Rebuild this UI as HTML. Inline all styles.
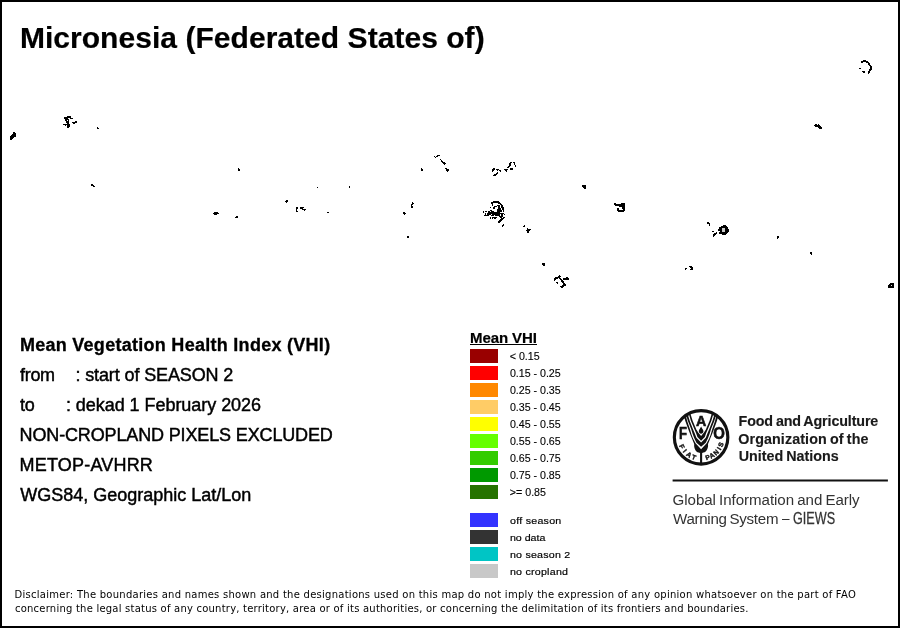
<!DOCTYPE html>
<html lang="en"><head><meta charset="utf-8"><title>Micronesia (Federated States of) - Mean Vegetation Health Index</title>
<style>
html,body{margin:0;padding:0;background:#fff;}
body{width:900px;height:628px;position:relative;overflow:hidden;font-family:"Liberation Sans",sans-serif;color:#000;}
#frame{position:absolute;left:0;top:0;width:896px;height:624px;border:2px solid #000;}
.t{position:absolute;white-space:nowrap;line-height:1;margin:0;transform-origin:0 0;}
.c{display:inline-block;transform-origin:50% 84.65%;}
.sw{position:absolute;left:470px;width:28px;height:14px;}
#ul{position:absolute;left:470px;top:344px;width:67px;height:1px;background:#000;}
svg{position:absolute;left:0;top:0;}
</style></head><body>
<div id="frame"></div>
<svg id="map" width="900" height="628" viewBox="0 0 900 628" shape-rendering="crispEdges">
<path fill="#000" d="M863 60h3v1h-3zM861 61h7v1h-7zM861 62h2v1h-2zM866 62h3v1h-3zM868 63h2v1h-2zM868 64h2v1h-2zM869 65h2v1h-2zM870 66h2v1h-2zM870 67h2v1h-2zM859 68h2v1h-2zM870 68h2v1h-2zM869 69h3v1h-3zM869 70h2v1h-2zM862 71h3v1h-3zM868 71h2v1h-2zM863 72h2v1h-2zM868 72h2v1h-2zM868 73h1v1h-1zM67 116h4v1h-4zM64 117h7v1h-7zM64 118h4v1h-4zM70 118h3v1h-3zM65 119h4v1h-4zM65 120h2v1h-2zM68 120h1v1h-1zM66 121h3v1h-3zM75 121h2v1h-2zM66 122h3v1h-3zM72 122h5v1h-5zM67 123h2v1h-2zM73 123h2v1h-2zM63 124h7v1h-7zM815 124h2v1h-2zM818 124h1v1h-1zM65 125h1v1h-1zM67 125h3v1h-3zM814 125h6v1h-6zM67 126h3v1h-3zM815 126h6v1h-6zM67 127h2v1h-2zM97 127h1v1h-1zM818 127h4v1h-4zM97 128h2v1h-2zM819 128h3v1h-3zM13 132h2v1h-2zM13 133h3v1h-3zM12 134h4v1h-4zM11 135h5v1h-5zM10 136h6v1h-6zM10 137h4v1h-4zM10 138h3v1h-3zM10 139h2v1h-2zM437 155h3v1h-3zM434 156h1v1h-1zM436 156h2v1h-2zM435 157h1v1h-1zM440 159h1v1h-1zM441 160h1v1h-1zM441 161h2v1h-2zM442 162h3v1h-3zM510 162h2v1h-2zM513 162h2v1h-2zM443 163h3v1h-3zM509 163h2v1h-2zM514 163h1v1h-1zM444 164h1v1h-1zM509 164h2v1h-2zM514 164h1v1h-1zM509 165h2v1h-2zM515 165h1v1h-1zM508 166h2v1h-2zM515 166h1v1h-1zM507 167h2v1h-2zM238 168h1v1h-1zM421 168h1v1h-1zM445 168h2v1h-2zM493 168h2v1h-2zM510 168h3v1h-3zM238 169h2v1h-2zM421 169h2v1h-2zM446 169h3v1h-3zM492 169h3v1h-3zM496 169h3v1h-3zM504 169h4v1h-4zM510 169h3v1h-3zM238 170h2v1h-2zM421 170h2v1h-2zM446 170h3v1h-3zM492 170h2v1h-2zM497 170h1v1h-1zM499 170h2v1h-2zM505 170h2v1h-2zM447 171h1v1h-1zM492 171h1v1h-1zM500 171h1v1h-1zM506 171h1v1h-1zM497 172h1v1h-1zM496 173h2v1h-2zM494 174h3v1h-3zM493 175h3v1h-3zM91 184h2v1h-2zM91 185h3v1h-3zM582 185h4v1h-4zM93 186h2v1h-2zM349 186h1v1h-1zM582 186h4v1h-4zM317 187h1v1h-1zM349 187h1v1h-1zM583 187h3v1h-3zM584 188h2v1h-2zM286 200h2v1h-2zM285 201h3v1h-3zM493 201h6v1h-6zM286 202h1v1h-1zM412 202h1v1h-1zM491 202h9v1h-9zM412 203h2v1h-2zM491 203h2v1h-2zM498 203h3v1h-3zM614 203h2v1h-2zM621 203h4v1h-4zM411 204h2v1h-2zM492 204h1v1h-1zM500 204h2v1h-2zM614 204h11v1h-11zM411 205h1v1h-1zM492 205h1v1h-1zM497 205h3v1h-3zM501 205h2v1h-2zM615 205h10v1h-10zM411 206h2v1h-2zM494 206h3v1h-3zM498 206h2v1h-2zM501 206h2v1h-2zM619 206h6v1h-6zM296 207h1v1h-1zM297 207h1v1h-1zM300 207h4v1h-4zM411 207h2v1h-2zM490 207h1v1h-1zM493 207h2v1h-2zM498 207h2v1h-2zM501 207h3v1h-3zM622 207h3v1h-3zM296 208h1v1h-1zM297 208h1v1h-1zM300 208h3v1h-3zM493 208h2v1h-2zM498 208h3v1h-3zM502 208h2v1h-2zM617 208h2v1h-2zM622 208h3v1h-3zM296 209h1v1h-1zM302 209h4v1h-4zM497 209h4v1h-4zM502 209h2v1h-2zM617 209h2v1h-2zM623 209h2v1h-2zM296 210h1v1h-1zM304 210h1v1h-1zM490 210h2v1h-2zM497 210h5v1h-5zM503 210h1v1h-1zM617 210h8v1h-8zM296 211h1v1h-1zM297 211h1v1h-1zM483 211h1v1h-1zM485 211h2v1h-2zM488 211h2v1h-2zM491 211h3v1h-3zM497 211h5v1h-5zM503 211h1v1h-1zM618 211h6v1h-6zM214 212h4v1h-4zM327 212h2v1h-2zM403 212h2v1h-2zM483 212h1v1h-1zM488 212h12v1h-12zM213 213h6v1h-6zM403 213h3v1h-3zM485 213h1v1h-1zM487 213h17v1h-17zM214 214h3v1h-3zM404 214h1v1h-1zM485 214h1v1h-1zM487 214h4v1h-4zM492 214h8v1h-8zM501 214h2v1h-2zM504 214h1v1h-1zM484 215h5v1h-5zM491 215h3v1h-3zM495 215h5v1h-5zM501 215h2v1h-2zM236 216h2v1h-2zM499 216h4v1h-4zM235 217h3v1h-3zM490 217h1v1h-1zM492 217h5v1h-5zM500 217h2v1h-2zM503 217h2v1h-2zM490 218h1v1h-1zM492 218h1v1h-1zM494 218h2v1h-2zM501 218h3v1h-3zM500 219h3v1h-3zM499 220h3v1h-3zM498 221h3v1h-3zM498 222h2v1h-2zM707 222h2v1h-2zM707 223h3v1h-3zM503 224h1v1h-1zM709 224h1v1h-1zM502 225h2v1h-2zM524 225h1v1h-1zM709 225h1v1h-1zM723 225h3v1h-3zM502 226h1v1h-1zM523 226h2v1h-2zM721 226h6v1h-6zM719 227h9v1h-9zM527 228h1v1h-1zM719 228h9v1h-9zM527 229h4v1h-4zM718 229h11v1h-11zM526 230h4v1h-4zM718 230h11v1h-11zM527 231h2v1h-2zM712 231h2v1h-2zM720 231h9v1h-9zM527 232h2v1h-2zM716 232h1v1h-1zM719 232h9v1h-9zM714 233h3v1h-3zM719 233h8v1h-8zM713 234h3v1h-3zM722 234h4v1h-4zM713 235h2v1h-2zM407 236h2v1h-2zM713 236h1v1h-1zM777 236h2v1h-2zM407 237h2v1h-2zM777 237h2v1h-2zM777 238h1v1h-1zM810 252h2v1h-2zM810 253h2v1h-2zM811 254h1v1h-1zM542 263h3v1h-3zM542 264h3v1h-3zM543 265h2v1h-2zM689 266h3v1h-3zM690 267h3v1h-3zM685 268h2v1h-2zM691 268h2v1h-2zM685 269h1v1h-1zM690 269h3v1h-3zM559 275h1v1h-1zM558 276h3v1h-3zM555 277h5v1h-5zM566 277h2v1h-2zM554 278h4v1h-4zM559 278h2v1h-2zM563 278h6v1h-6zM554 279h2v1h-2zM560 279h2v1h-2zM563 279h6v1h-6zM554 280h1v1h-1zM561 280h2v1h-2zM561 281h3v1h-3zM556 282h2v1h-2zM562 282h2v1h-2zM557 283h1v1h-1zM563 283h2v1h-2zM890 283h4v1h-4zM563 284h3v1h-3zM889 284h5v1h-5zM562 285h4v1h-4zM888 285h3v1h-3zM892 285h2v1h-2zM560 286h4v1h-4zM888 286h6v1h-6zM561 287h2v1h-2zM888 287h6v1h-6z"/>
<rect x="722" y="228" width="3" height="4" fill="#c8c8c8"/>
<rect x="891" y="285" width="1" height="1" fill="#e0e0e0"/>
</svg>
<div class="t" id="title" style="left:19.90px;top:23.00px;font-size:30px;font-weight:bold;letter-spacing:0.042px;-webkit-text-stroke:0.2px #000;">Micronesia (Federated States of)</div>
<div class="t" id="i1" style="left:19.88px;top:336.00px;font-size:18px;font-weight:bold;letter-spacing:0.279px;-webkit-text-stroke:0.3px #000;">Mean Vegetation Health Index (VHI)</div>
<div class="t" id="i2a" style="left:20.08px;top:366.00px;font-size:18px;letter-spacing:-0.322px;-webkit-text-stroke:0.45px #000;">from</div>
<div class="t" id="i2b" style="left:75.46px;top:366.00px;font-size:18px;letter-spacing:-0.121px;-webkit-text-stroke:0.45px #000;">: start of SEASON 2</div>
<div class="t" id="i3a" style="left:20.07px;top:396.00px;font-size:18px;letter-spacing:-0.384px;-webkit-text-stroke:0.45px #000;">to</div>
<div class="t" id="i3b" style="left:65.96px;top:396.00px;font-size:18px;letter-spacing:-0.047px;-webkit-text-stroke:0.45px #000;">: dekad 1 February 2026</div>
<div class="t" id="i4" style="left:19.56px;top:426.00px;font-size:18px;letter-spacing:-0.140px;-webkit-text-stroke:0.45px #000;">NON-CROPLAND PIXELS EXCLUDED</div>
<div class="t" id="i5" style="left:19.56px;top:456.00px;font-size:18px;letter-spacing:0.198px;-webkit-text-stroke:0.45px #000;">METOP-AVHRR</div>
<div class="t" id="i6" style="left:20.20px;top:486.00px;font-size:18px;letter-spacing:-0.002px;-webkit-text-stroke:0.45px #000;">WGS84, Geographic Lat/Lon</div>
<div class="t" id="lt" style="left:470.10px;top:330.00px;font-size:15px;font-weight:bold;letter-spacing:-0.113px;-webkit-text-stroke:0.2px #000;">Mean VHI</div>
<div id="ul"></div>
<div class="sw" style="top:349px;background:#990000"></div>
<div class="sw" style="top:366px;background:#ff0000"></div>
<div class="sw" style="top:383px;background:#ff8800"></div>
<div class="sw" style="top:400px;background:#ffcc66"></div>
<div class="sw" style="top:417px;background:#ffff00"></div>
<div class="sw" style="top:434px;background:#66ff00"></div>
<div class="sw" style="top:451px;background:#33cc00"></div>
<div class="sw" style="top:468px;background:#009900"></div>
<div class="sw" style="top:485px;background:#267300"></div>
<div class="sw" style="top:513px;background:#3333ff"></div>
<div class="sw" style="top:530px;background:#333333"></div>
<div class="sw" style="top:547px;background:#00c5c5"></div>
<div class="sw" style="top:564px;background:#c8c8c8"></div>
<div class="t" id="l0" style="left:509.83px;top:351.14px;font-size:10.67px;letter-spacing:-0.032px;-webkit-text-stroke:0.12px #000;transform:scale(1,0.955);">&lt; 0.15</div>
<div class="t" id="l1" style="left:509.90px;top:368.14px;font-size:10.67px;letter-spacing:-0.016px;-webkit-text-stroke:0.12px #000;transform:scale(1,0.955);">0.15 - 0.25</div>
<div class="t" id="l2" style="left:509.90px;top:385.14px;font-size:10.67px;letter-spacing:-0.016px;-webkit-text-stroke:0.12px #000;transform:scale(1,0.955);">0.25 - 0.35</div>
<div class="t" id="l3" style="left:509.90px;top:402.14px;font-size:10.67px;letter-spacing:-0.016px;-webkit-text-stroke:0.12px #000;transform:scale(1,0.955);">0.35 - 0.45</div>
<div class="t" id="l4" style="left:509.90px;top:419.14px;font-size:10.67px;letter-spacing:-0.016px;-webkit-text-stroke:0.12px #000;transform:scale(1,0.955);">0.45 - 0.55</div>
<div class="t" id="l5" style="left:509.90px;top:436.14px;font-size:10.67px;letter-spacing:-0.016px;-webkit-text-stroke:0.12px #000;transform:scale(1,0.955);">0.55 - 0.65</div>
<div class="t" id="l6" style="left:509.90px;top:453.14px;font-size:10.67px;letter-spacing:-0.016px;-webkit-text-stroke:0.12px #000;transform:scale(1,0.955);">0.65 - 0.75</div>
<div class="t" id="l7" style="left:509.90px;top:470.14px;font-size:10.67px;letter-spacing:-0.016px;-webkit-text-stroke:0.12px #000;transform:scale(1,0.955);">0.75 - 0.85</div>
<div class="t" id="l8" style="left:509.85px;top:487.14px;font-size:10.67px;letter-spacing:-0.009px;-webkit-text-stroke:0.12px #000;transform:scale(1,0.955);">&gt;= 0.85</div>
<div class="t" id="m0" style="left:510.11px;top:516.12px;font-size:10.67px;letter-spacing:0.239px;-webkit-text-stroke:0.2px #000;transform:scale(1,0.93);">off season</div>
<div class="t" id="m1" style="left:509.91px;top:533.12px;font-size:10.67px;letter-spacing:-0.023px;-webkit-text-stroke:0.2px #000;transform:scale(1,0.93);">no data</div>
<div class="t" id="m2" style="left:509.91px;top:550.12px;font-size:10.67px;letter-spacing:0.221px;-webkit-text-stroke:0.2px #000;transform:scale(1,0.93);">no season 2</div>
<div class="t" id="m3" style="left:509.91px;top:567.12px;font-size:10.67px;letter-spacing:0.239px;-webkit-text-stroke:0.2px #000;transform:scale(1,0.93);">no cropland</div>
<div class="t" id="f1" style="left:738.55px;top:414.20px;font-size:14.3px;font-weight:bold;letter-spacing:-0.132px;color:#1a1a1a;-webkit-text-stroke:0.15px #1a1a1a;word-spacing:-0.9px;">Food and Agriculture</div>
<div class="t" id="f2" style="left:738.29px;top:431.90px;font-size:14.3px;font-weight:bold;letter-spacing:0.094px;color:#1a1a1a;-webkit-text-stroke:0.15px #1a1a1a;word-spacing:-0.9px;">Organization of the</div>
<div class="t" id="f3" style="left:738.65px;top:449.30px;font-size:14.3px;font-weight:bold;letter-spacing:0.003px;color:#1a1a1a;-webkit-text-stroke:0.15px #1a1a1a;word-spacing:-0.9px;">United Nations</div>
<div class="t" id="g1" style="left:672.56px;top:492.28px;font-size:15.1px;letter-spacing:-0.045px;color:#333;word-spacing:-1.0px;">Global Information and Early</div>
<div class="t" id="g2" style="left:673.03px;top:510.78px;font-size:15.1px;letter-spacing:-0.286px;color:#333;word-spacing:-1.0px;">Warning System</div>
<div class="t" id="g2b" style="left:782.20px;top:509.50px;font-size:15.1px;color:#333;transform:scale(0.8933,1);">–</div>
<div class="t" id="g2c" style="left:793.39px;top:509.50px;font-size:15.1px;color:#333;-webkit-text-stroke:0.25px #333;transform:scale(0.8361,1.05);">GIEWS</div>
<div class="t" id="d1" style="left:14.59px;top:589.64px;font-size:10.0px;letter-spacing:0.259px;color:#000;font-family:'DejaVu Sans',sans-serif;">Disclaimer: The boundaries and names shown and the designations used on this map do not imply the expression of any opinion whatsoever on the part of FAO</div>
<div class="t" id="d2" style="left:14.98px;top:603.64px;font-size:10.0px;letter-spacing:0.222px;color:#000;font-family:'DejaVu Sans',sans-serif;">concerning the legal status of any country, territory, area or of its authorities, or concerning the delimitation of its frontiers and boundaries.</div>
<svg id="fao" width="900" height="628" viewBox="0 0 900 628">
<defs><clipPath id="inner"><circle cx="701.1" cy="437.3" r="26.75"/></clipPath>
</defs>
<g clip-path="url(#inner)" fill="#111" stroke="none">
<path d="M682.74 411.50 L684.10 416.50 L685.30 420.90 L688.30 429.20 L690.50 435.10 L694.20 444.00 C693.70 448.60 695.80 452.70 700.05 452.90 L700.05 466 L702.15 466 L702.15 452.90 C706.40 452.70 708.50 448.60 708.00 444.00 L711.70 435.10 L713.90 429.20 L716.90 420.90 L718.10 416.50 L719.46 411.50Z"/>
<path d="M684.67 411.57 L686.01 416.58 L687.17 421.01 L690.06 429.39 L691.41 434.20 L693.03 438.45 L695.55 443.35 L701.10 449.15 L706.65 443.35 L709.17 438.45 L710.79 434.20 L712.14 429.39 L715.03 421.01 L716.19 416.58 L717.53 411.57 L717.00 411.43 L715.61 416.42 L714.37 420.79 L711.06 429.01 L709.61 433.80 L708.03 437.95 L705.75 442.65 L701.10 446.65 L696.45 442.65 L694.17 437.95 L692.59 433.80 L691.14 429.01 L687.83 420.79 L686.59 416.42 L685.20 411.43Z" fill="#fff"/>
<path d="M687.00 411.66 L688.45 416.66 L689.74 421.11 L693.08 429.46 L694.77 433.45 L696.38 437.75 L701.10 442.40 L705.82 437.75 L707.43 433.45 L709.12 429.46 L712.46 421.11 L713.75 416.66 L715.20 411.66 L714.15 411.34 L712.65 416.34 L711.34 420.69 L707.88 428.94 L706.17 432.95 L704.78 437.05 L701.10 440.80 L697.42 437.05 L696.03 432.95 L694.32 428.94 L690.86 420.69 L689.55 416.34 L688.05 411.34Z" fill="#fff"/>
<path d="M689.71 411.50 L691.30 416.50 L692.70 420.90 L696.20 429.20 L698.20 432.60 L701.10 436.00 L704.00 432.60 L706.00 429.20 L709.50 420.90 L710.90 416.50 L712.49 411.50Z" fill="#fff"/>
<path d="M701.1 426.6 C701.8000000000001 428.3 703.4 429.7 703.4 431.3 C703.4 432.8 702.3000000000001 433.7 701.1 433.7 C699.9 433.7 698.8000000000001 432.8 698.8000000000001 431.3 C698.8000000000001 429.7 700.4 428.3 701.1 426.6Z"/>
</g>
<circle cx="701.1" cy="437.3" r="26.75" fill="none" stroke="#111" stroke-width="3.15"/>
<text x="701.1" y="426.0" text-anchor="middle" font-size="15.4" textLength="10.3" lengthAdjust="spacingAndGlyphs" style="font-family:'Liberation Sans',sans-serif;font-weight:bold;fill:#111;stroke:#111;stroke-width:0.6px;stroke-linejoin:miter">A</text>
<text x="683.1" y="438.85" text-anchor="middle" font-size="15.6" textLength="8.0" lengthAdjust="spacingAndGlyphs" style="font-family:'Liberation Sans',sans-serif;font-weight:bold;fill:#111;stroke:#111;stroke-width:0.6px;stroke-linejoin:miter">F</text>
<text x="719.0" y="438.8" text-anchor="middle" font-size="15.8" textLength="11.6" lengthAdjust="spacingAndGlyphs" style="font-family:'Liberation Sans',sans-serif;font-weight:bold;fill:#111;stroke:#111;stroke-width:0.6px;stroke-linejoin:miter">O</text>
<text font-size="6.6" style="font-family:'Liberation Sans',sans-serif;font-weight:bold;fill:#111;stroke:#111;stroke-width:0.4px" x="679.12 682.61 685.79 691.32" y="445.87 451.83 455.29 458.76" rotate="63.8 49.6 34.6 19.6">FIAT</text>
<text font-size="6.6" style="font-family:'Liberation Sans',sans-serif;font-weight:bold;fill:#111;stroke:#111;stroke-width:0.4px" x="706.39 710.97 715.90 720.54 722.39" y="460.30 458.76 455.71 450.53 447.48" rotate="-18.3 -30.5 -44.6 -58.0 -69.8">PANIS</text>
<rect x="672.6" y="479.5" width="215.3" height="2" fill="#111"/>
</svg>
</body></html>
